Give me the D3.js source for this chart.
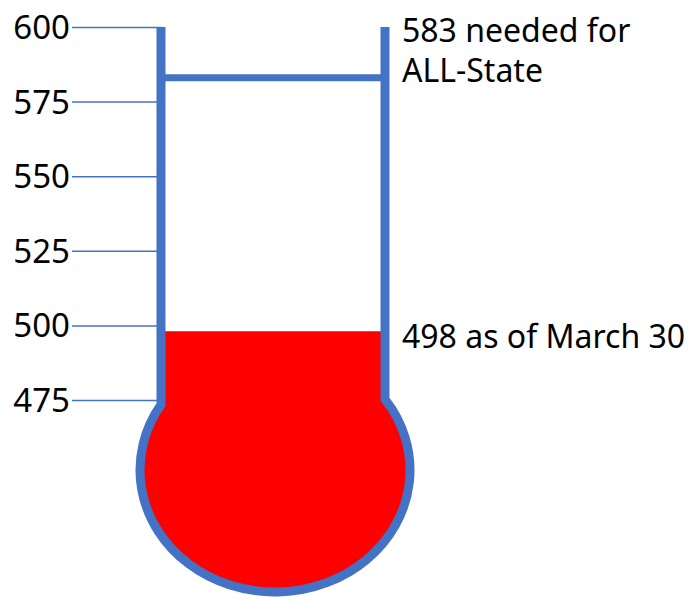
<!DOCTYPE html>
<html>
<head>
<meta charset="utf-8">
<script src="https://cdn.jsdelivr.net/npm/d3@7"></script>
<style>
  html, body { margin: 0; padding: 0; background: #fff; }
  svg { display: block; }
</style>
</head>
<body>
<svg id="chart" width="700" height="598"></svg>
<script>
// ---- data ----
const tickValues = [475, 500, 525, 550, 575, 600];
const scaleDomain = [475, 600];
const goalValue = 583;
const currentValue = 498;
const goalLabelLines = ["583 needed for", "ALL-State"];
const currentLabel = "498 as of March 30";

// ---- layout ----
const W = 700, H = 598;
const svg = d3.select("#chart");
const blue = "#4472C4";
const red = "#FF0000";
const font = "'Noto Sans', 'Open Sans', sans-serif";

const y = d3.scaleLinear().domain(scaleDomain).range([400, 27]);

const leftX = 161, rightX = 385;        // tube walls (stroke centres)
const bulb = { cx: 275, cy: 470, rx: 135, ry: 122 };
const wallW = 9;

function bulbY(x) {
  const t = (x - bulb.cx) / bulb.rx;
  return bulb.cy - bulb.ry * Math.sqrt(1 - t * t);
}
const yL = bulbY(leftX), yR = bulbY(rightX);

// tick lines + labels (axis)
const axis = d3.axisLeft(y).tickValues(tickValues).tickSize(leftX - 72).tickPadding(2);
const gAxis = svg.append("g").attr("transform", `translate(${leftX},0)`).call(axis);
gAxis.select(".domain").remove();
gAxis.selectAll(".tick line").attr("stroke", blue).attr("stroke-width", 1.5);
gAxis.selectAll(".tick text")
  .attr("fill", "#000")
  .style("font-family", font)
  .style("font-size", "33px")
  .attr("dy", "0.35em");

// red fill (current value)
const fillPath = d3.path();
fillPath.moveTo(leftX, y(currentValue));
fillPath.lineTo(leftX, yL);
const fillD = fillPath.toString() +
  ` A${bulb.rx},${bulb.ry} 0 1 0 ${rightX},${yR} L${rightX},${y(currentValue)} Z`;
svg.append("path").attr("d", fillD).attr("fill", red);

// thermometer outline
const outlineD = `M${leftX},${y(600)} L${leftX},${yL} ` +
  `A${bulb.rx},${bulb.ry} 0 1 0 ${rightX},${yR} L${rightX},${y(600)}`;
svg.append("path").attr("d", outlineD)
  .attr("fill", "none").attr("stroke", blue).attr("stroke-width", wallW)
  .attr("stroke-linejoin", "miter");

// goal line
svg.append("line")
  .attr("x1", leftX).attr("x2", rightX)
  .attr("y1", y(goalValue)).attr("y2", y(goalValue))
  .attr("stroke", blue).attr("stroke-width", 7);

// labels
const goalText = svg.append("text")
  .attr("x", 402).attr("y", y(600) + 15)
  .style("font-family", font).style("font-size", "32px").attr("fill", "#000");
goalText.selectAll("tspan").data(goalLabelLines).join("tspan")
  .attr("x", 402).attr("dy", (d, i) => i === 0 ? 0 : 40).text(d => d);

svg.append("text")
  .attr("x", 402).attr("y", y(currentValue) + 17)
  .style("font-family", font).style("font-size", "32px").attr("fill", "#000")
  .text(currentLabel);
</script>
</body>
</html>
